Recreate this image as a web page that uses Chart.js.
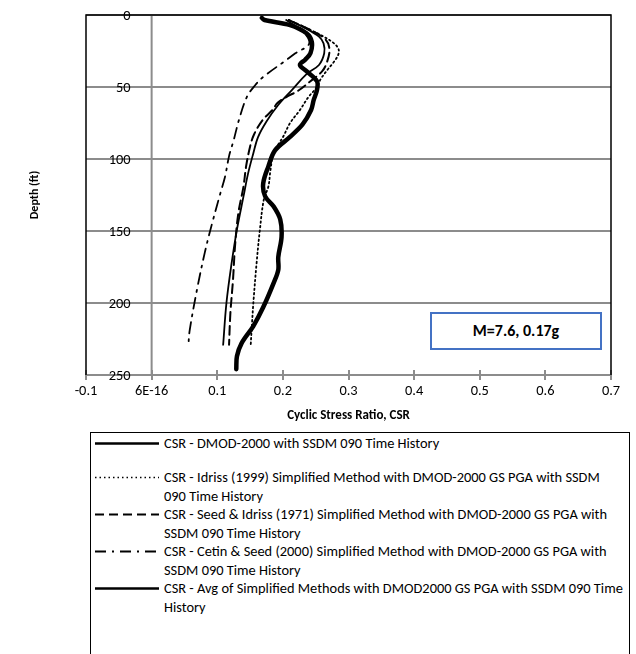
<!DOCTYPE html>
<html>
<head>
<meta charset="utf-8">
<script src="https://cdn.jsdelivr.net/npm/chart.js@4"></script>
<style>
  html, body { margin: 0; padding: 0; background: #fff; }
  body { width: 636px; height: 654px; position: relative; overflow: hidden;
         font-family: Carlito, Calibri, Lato, sans-serif; }
  #wrap { position: absolute; left: 0; top: 0; width: 636px; height: 432px; }
  #note { position: absolute; left: 430px; top: 312px; width: 168px; height: 34px;
          border: 2px solid #4472c4; background: #fff; text-align: center;
          line-height: 34px; font-weight: bold; font-size: 16px; color: #000; }
  #legend { position: absolute; left: 90px; top: 432px; width: 540px; height: 240px;
            border: 1.5px solid #000; box-sizing: border-box; }
  .entry { display: flex; align-items: flex-start; font-size: 14.4px; line-height: 18.5px; color: #000; }
  .entry svg { flex: none; margin: 0 5px 0 4px; }
  .entry span { white-space: nowrap; }
</style>
</head>
<body>
<div id="wrap"><canvas id="csrChart"></canvas></div>
<div id="note">M=7.6, 0.17g</div>
<div id="legend"></div>
<script>
// depth (ft) and CSR for each profile
const dmodDepth = [2, 3.5, 7, 12.7, 18.5, 26.6, 31, 34.7, 39, 46, 52, 59, 66, 76, 85, 94, 105, 117, 126, 133, 142, 154, 168, 177, 186, 203, 216, 228, 237, 246];
const dmodCsr   = [0.168, 0.172, 0.211, 0.236, 0.244, 0.242, 0.234, 0.226, 0.236, 0.252, 0.252, 0.247, 0.243, 0.230, 0.210, 0.188, 0.178, 0.170, 0.173, 0.186, 0.196, 0.198, 0.193, 0.193, 0.186, 0.170, 0.155, 0.137, 0.130, 0.129];

const idrissDepth = [3.5, 9.3, 14, 19.7, 24, 28, 33, 38, 45, 50, 57, 66, 75, 84, 96, 108, 119, 128, 149, 172, 200, 214, 229];
const idrissCsr   = [0.209, 0.237, 0.258, 0.278, 0.285, 0.284, 0.277, 0.268, 0.257, 0.252, 0.239, 0.226, 0.211, 0.201, 0.186, 0.181, 0.178, 0.171, 0.165, 0.160, 0.155, 0.153, 0.151];

const seedDepth = [3.5, 9.3, 17, 24, 33, 39, 46, 53, 56, 61, 66, 73, 83, 91.5, 105, 119, 138, 161, 184, 207, 229];
const seedCsr   = [0.209, 0.237, 0.265, 0.271, 0.267, 0.260, 0.242, 0.222, 0.209, 0.192, 0.184, 0.169, 0.156, 0.150, 0.144, 0.140, 0.132, 0.127, 0.124, 0.120, 0.118];

const cetinDepth = [3.5, 12, 20, 26.6, 32, 43, 48.6, 57, 73, 87, 98, 112, 125, 145, 165, 191, 219, 229];
const cetinCsr   = [0.205, 0.232, 0.240, 0.219, 0.203, 0.170, 0.158, 0.145, 0.133, 0.125, 0.118, 0.112, 0.104, 0.092, 0.081, 0.069, 0.058, 0.056];

const avgDepth = [3.5, 9.3, 15, 19.7, 26.6, 34.7, 41, 52, 63, 74, 85, 96, 110, 126, 149, 172, 200, 229];
const avgCsr   = [0.209, 0.235, 0.255, 0.262, 0.263, 0.255, 0.236, 0.214, 0.192, 0.175, 0.162, 0.155, 0.147, 0.140, 0.130, 0.122, 0.114, 0.109];

const csrTicks = [-0.1, 0, 0.1, 0.2, 0.3, 0.4, 0.5, 0.6, 0.7];
const csrTickLabels = ['-0.1', '6E-16', '0.1', '0.2', '0.3', '0.4', '0.5', '0.6', '0.7'];
const depthTicks = [0, 50, 100, 150, 200, 250];

const series = [
  { label: 'CSR - DMOD-2000 with SSDM 090 Time History',
    text: ['CSR - DMOD-2000 with SSDM 090 Time History', ''],
    depth: dmodDepth, csr: dmodCsr, width: 4.5, dash: [], keyWidth: 2.5 },
  { label: 'CSR - Idriss (1999) Simplified Method with DMOD-2000 GS PGA with SSDM 090 Time History',
    text: ['CSR - Idriss (1999) Simplified Method with DMOD-2000 GS PGA with SSDM', '090 Time History'],
    depth: idrissDepth, csr: idrissCsr, width: 1.8, dash: [1.5, 3], keyWidth: 1.5 },
  { label: 'CSR - Seed & Idriss (1971) Simplified Method with DMOD-2000 GS PGA with SSDM 090 Time History',
    text: ['CSR - Seed & Idriss (1971) Simplified Method with DMOD-2000 GS PGA with', 'SSDM 090 Time History'],
    depth: seedDepth, csr: seedCsr, width: 2, dash: [9, 5], keyWidth: 2 },
  { label: 'CSR - Cetin & Seed (2000) Simplified Method with DMOD-2000 GS PGA with SSDM 090 Time History',
    text: ['CSR - Cetin & Seed (2000) Simplified Method with DMOD-2000 GS PGA with', 'SSDM 090 Time History'],
    depth: cetinDepth, csr: cetinCsr, width: 1.8, dash: [11, 6, 2, 6], keyWidth: 1.8 },
  { label: 'CSR - Avg of Simplified Methods with DMOD2000 GS PGA with SSDM 090 Time History',
    text: ['CSR - Avg of Simplified Methods with DMOD2000 GS PGA with SSDM 090 Time', 'History'],
    depth: avgDepth, csr: avgCsr, width: 1.8, dash: [], keyWidth: 2.5 }
];

const FONT = 'Carlito, Calibri, Lato, sans-serif';

// frame, x = 0 axis line and the depth labels that sit beside it
const plotExtras = {
  id: 'plotExtras',
  beforeDatasetsDraw(chart) {
    const { ctx, chartArea: a, scales: { x, y } } = chart;
    const x0 = x.getPixelForValue(0);
    ctx.save();
    ctx.strokeStyle = '#8c8c8c';
    ctx.lineWidth = 2;
    ctx.beginPath();
    ctx.moveTo(x0, a.top);
    ctx.lineTo(x0, a.bottom);
    ctx.stroke();

    // bottom axis ticks
    ctx.beginPath();
    csrTicks.forEach(v => {
      const px = Math.round(x.getPixelForValue(v));
      ctx.moveTo(px, a.bottom - 5);
      ctx.lineTo(px, a.bottom + 5);
    });
    ctx.stroke();

    ctx.strokeStyle = '#000';
    ctx.lineWidth = 1.5;
    ctx.beginPath();
    ctx.moveTo(a.left, a.bottom);
    ctx.lineTo(a.left, a.top);
    ctx.lineTo(a.right, a.top);
    ctx.lineTo(a.right, a.bottom);
    ctx.stroke();

    ctx.fillStyle = '#000';
    ctx.font = '14.4px ' + FONT;
    ctx.textAlign = 'right';
    ctx.textBaseline = 'middle';
    depthTicks.forEach(v => {
      ctx.fillText(String(v), x0 - 21, y.getPixelForValue(v) + 1);
    });
    ctx.restore();
  }
};

new Chart(document.getElementById('csrChart'), {
  type: 'scatter',
  data: {
    datasets: series.map(s => ({
      label: s.label,
      data: s.depth.map((d, i) => ({ x: s.csr[i], y: d })),
      showLine: true,
      borderColor: '#000',
      backgroundColor: '#000',
      borderWidth: s.width,
      borderDash: s.dash,
      borderCapStyle: 'round',
      borderJoinStyle: 'round',
      tension: 0.35,
      pointRadius: 0
    }))
  },
  options: {
    responsive: true,
    maintainAspectRatio: false,
    animation: false,
    layout: { padding: { top: 15, right: 25, left: 0, bottom: 0 } },
    plugins: { legend: { display: false }, tooltip: { enabled: false } },
    scales: {
      x: {
        type: 'linear',
        min: -0.1,
        max: 0.7,
        afterBuildTicks: (scale) => { scale.ticks = csrTicks.map(v => ({ value: v })); },
        afterFit: (scale) => { scale.height = 57; },
        ticks: {
          color: '#000',
          font: { family: FONT, size: 14.4 },
          padding: 3,
          maxRotation: 0,
          callback: (v) => csrTickLabels[csrTicks.findIndex(t => Math.abs(t - v) < 1e-9)]
        },
        grid: { display: true, drawOnChartArea: false, drawTicks: true, tickLength: 5, color: 'rgba(0,0,0,0)' },
        border: { display: true, color: '#8c8c8c', width: 2 },
        title: {
          display: true,
          text: 'Cyclic Stress Ratio, CSR',
          color: '#000',
          font: { family: FONT, size: 13, weight: 'bold' },
          padding: { top: 0, bottom: 8 }
        }
      },
      y: {
        type: 'linear',
        reverse: true,
        min: 0,
        max: 250,
        afterBuildTicks: (scale) => { scale.ticks = depthTicks.map(v => ({ value: v })); },
        afterFit: (scale) => { scale.width = 86; },
        ticks: { display: false },
        grid: { color: '#8c8c8c', lineWidth: 2, drawTicks: false },
        border: { display: false },
        title: {
          display: true,
          text: 'Depth (ft)',
          color: '#000',
          font: { family: FONT, size: 12, weight: 'bold' },
          padding: { top: 28, bottom: 0 }
        }
      }
    }
  },
  plugins: [plotExtras]
});

// legend entries with line samples
const legend = document.getElementById('legend');
series.forEach((s, i) => {
  const row = document.createElement('div');
  row.className = 'entry';
  row.style.marginTop = i === 0 ? '1px' : (i === 1 ? '-3px' : '0');
  const svg = document.createElementNS('http://www.w3.org/2000/svg', 'svg');
  svg.setAttribute('width', '64');
  svg.setAttribute('height', '18');
  const ln = document.createElementNS('http://www.w3.org/2000/svg', 'line');
  ln.setAttribute('x1', '0'); ln.setAttribute('x2', '64');
  ln.setAttribute('y1', '9.5'); ln.setAttribute('y2', '9.5');
  ln.setAttribute('stroke', '#000');
  ln.setAttribute('stroke-width', s.keyWidth);
  if (s.dash.length) ln.setAttribute('stroke-dasharray', s.dash.join(' '));
  svg.appendChild(ln);
  const span = document.createElement('span');
  span.innerHTML = s.text[0] + '<br>' + (s.text[1] || '&nbsp;');
  row.appendChild(svg);
  row.appendChild(span);
  legend.appendChild(row);
});
</script>
</body>
</html>
